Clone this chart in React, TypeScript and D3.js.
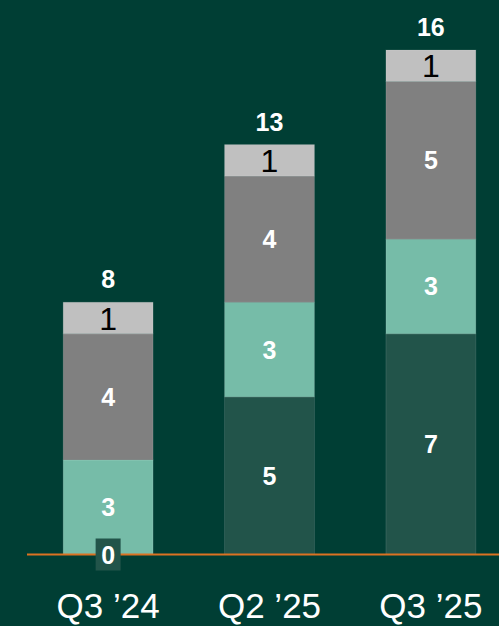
import { useEffect, useRef } from "react";
import * as d3 from "d3";

const categories = ["Q3 ’24", "Q2 ’25", "Q3 ’25"];
const seriesKeys = ["base", "mid", "upper", "top"];
const baseValues = [0, 5, 7];
const midValues = [3, 3, 3];
const upperValues = [4, 4, 5];
const topValues = [1, 1, 1];
const totals = [8, 13, 16];

const colors: Record<string, string> = {
  base: "#22544a",
  mid: "#76bca8",
  upper: "#808080",
  top: "#c0c0c0",
};

export default function App() {
  const svgRef = useRef<SVGSVGElement>(null);

  useEffect(() => {
    if (!svgRef.current) return;
    const width = 499;
    const height = 626;

    const svg = d3.select(svgRef.current);
    svg.selectAll("*").remove();
    svg.attr("viewBox", `0 0 ${width} ${height}`);

    svg
      .append("rect")
      .attr("width", width)
      .attr("height", height)
      .attr("fill", "#003e34");

    const rows = categories.map((c, i) => ({
      category: c,
      base: baseValues[i],
      mid: midValues[i],
      upper: upperValues[i],
      top: topValues[i],
    }));

    const stacked = d3.stack<any>().keys(seriesKeys)(rows);

    const x = d3
      .scaleBand()
      .domain(categories)
      .range([18, 521])
      .paddingInner(0.443)
      .paddingOuter(0.28);

    const y = d3.scaleLinear().domain([0, 16]).range([554.5, 50]);

    const font = "'Liberation Sans', Arial, sans-serif";

    // Bars
    stacked.forEach((layer) => {
      const key = layer.key;
      const g = svg.append("g");
      g.selectAll("rect")
        .data(layer)
        .enter()
        .filter((d) => d[1] - d[0] > 0)
        .append("rect")
        .attr("x", (d) => x(d.data.category)!)
        .attr("width", x.bandwidth())
        .attr("y", (d) => y(d[1]))
        .attr("height", (d) => y(d[0]) - y(d[1]))
        .attr("fill", colors[key])
        .attr("stroke", "rgba(255,255,255,0.12)")
        .attr("stroke-width", 1);
    });

    // Zero axis line
    svg
      .append("line")
      .attr("x1", 27)
      .attr("x2", width)
      .attr("y1", y(0))
      .attr("y2", y(0))
      .attr("stroke", "#dc7222")
      .attr("stroke-width", 2);

    // Segment labels
    stacked.forEach((layer) => {
      const key = layer.key;
      layer.forEach((d) => {
        const v = d[1] - d[0];
        const cx = x(d.data.category)! + x.bandwidth() / 2;
        const cy = (y(d[0]) + y(d[1])) / 2;
        if (v === 0) {
          svg
            .append("rect")
            .attr("x", cx - 12.5)
            .attr("y", cy - 16)
            .attr("width", 25)
            .attr("height", 32)
            .attr("fill", colors[key]);
        }
        const isTop = key === "top";
        svg
          .append("text")
          .attr("x", cx)
          .attr("y", cy)
          .attr("dy", "0.36em")
          .attr("text-anchor", "middle")
          .attr("font-family", font)
          .attr("font-size", isTop ? 32 : 25)
          .attr("font-weight", isTop ? "normal" : "bold")
          .attr("fill", isTop ? "#000000" : "#ffffff")
          .text(v);
      });
    });

    // Totals
    svg
      .append("g")
      .selectAll("text")
      .data(categories)
      .enter()
      .append("text")
      .attr("x", (c) => x(c)! + x.bandwidth() / 2)
      .attr("y", (c, i) => y(totals[i]) - 23)
      .attr("dy", "0.36em")
      .attr("text-anchor", "middle")
      .attr("font-family", font)
      .attr("font-size", 25)
      .attr("font-weight", "bold")
      .attr("fill", "#ffffff")
      .text((c, i) => totals[i]);

    // Category labels
    svg
      .append("g")
      .selectAll("text")
      .data(categories)
      .enter()
      .append("text")
      .attr("x", (c) => x(c)! + x.bandwidth() / 2)
      .attr("y", 618)
      .attr("text-anchor", "middle")
      .attr("font-family", font)
      .attr("font-size", 35)
      .attr("fill", "#ffffff")
      .text((c) => c);
  }, []);

  return (
    <svg
      ref={svgRef}
      width={499}
      height={626}
      style={{ position: "absolute", left: 0, top: 0, display: "block" }}
    />
  );
}
